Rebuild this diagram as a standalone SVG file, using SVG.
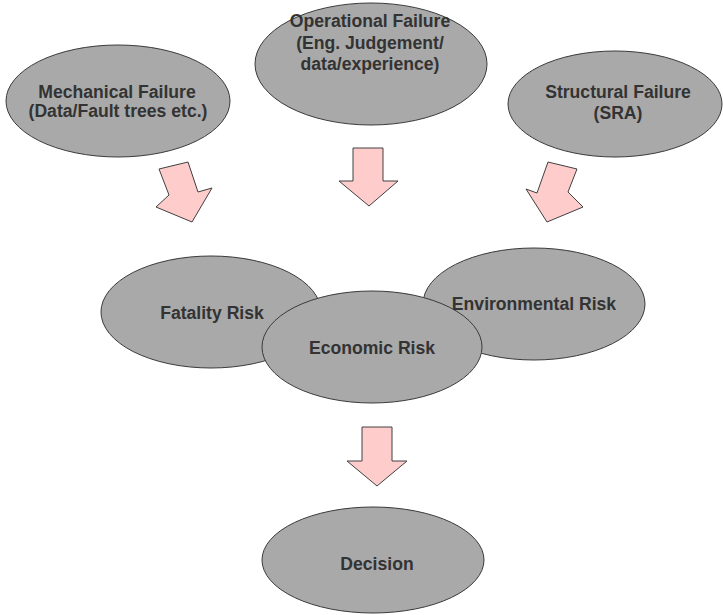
<svg xmlns="http://www.w3.org/2000/svg" width="723" height="615" viewBox="0 0 723 615">
  <style>
    .node ellipse { fill: #a9a9a9; stroke: #3a3a3a; stroke-width: 1; }
    .node text { font-family: "Liberation Sans", Arial, sans-serif; font-weight: bold; font-size: 17.6px; fill: #333333; text-anchor: middle; }
    .arrow { fill: #ffcccc; stroke: #404040; stroke-width: 1; stroke-linejoin: miter; }
  </style>
  <rect width="723" height="615" fill="#ffffff"/>

  <!-- Sources of failure -->
  <g id="mechanical" class="node">
    <ellipse cx="118" cy="101" rx="112" ry="56"/>
    <text x="117" y="98">Mechanical Failure</text>
    <text x="118" y="117">(Data/Fault trees etc.)</text>
  </g>
  <g id="operational" class="node">
    <ellipse cx="371" cy="64" rx="116" ry="61"/>
    <text x="370" y="27">Operational Failure</text>
    <text x="370" y="49">(Eng. Judgement/</text>
    <text x="370" y="70">data/experience)</text>
  </g>
  <g id="structural" class="node">
    <ellipse cx="615" cy="104" rx="107" ry="53"/>
    <text x="618" y="98">Structural Failure</text>
    <text x="618" y="119">(SRA)</text>
  </g>

  <!-- Risk categories -->
  <g id="fatality" class="node">
    <ellipse cx="211" cy="312" rx="110" ry="56"/>
    <text x="212" y="319">Fatality Risk</text>
  </g>
  <g id="environmental" class="node">
    <ellipse cx="534" cy="304" rx="111" ry="56"/>
    <text x="534" y="310">Environmental Risk</text>
  </g>
  <g id="economic" class="node">
    <ellipse cx="372" cy="347" rx="110" ry="56"/>
    <text x="372" y="354">Economic Risk</text>
  </g>

  <!-- Outcome -->
  <g id="decision" class="node">
    <ellipse cx="373" cy="560" rx="111" ry="53"/>
    <text x="377" y="570">Decision</text>
  </g>

  <!-- Block arrows -->
  <g id="connectors">
    <polygon class="arrow" points="159,169 188,162 198,192 212,188 192,222 156,207 169,195"/>
    <polygon class="arrow" points="353,148 383,148 383,181 398,181 369,206 339,181 353,181"/>
    <polygon class="arrow" points="548,162 577,169 568,192 583,207 547,222 526,189 537,193"/>
    <polygon class="arrow" points="362,427 392,427 392,461 407,461 377,486 347,461 362,461"/>
  </g>
</svg>
